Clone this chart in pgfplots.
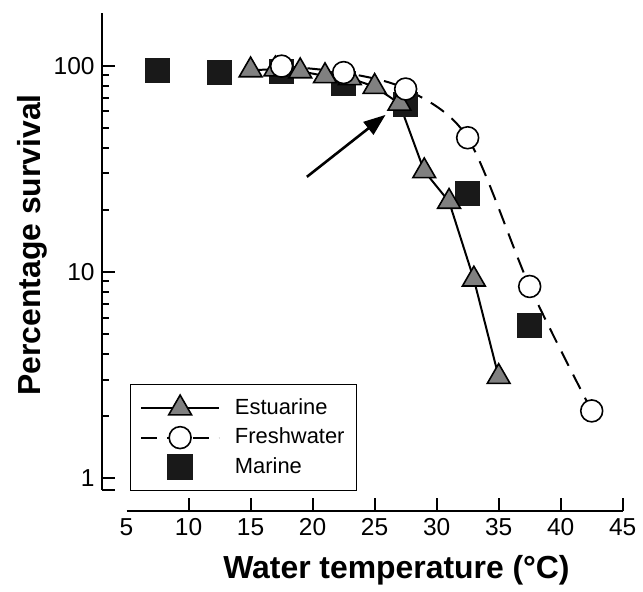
\documentclass[border=0pt]{standalone}
\usepackage{pgfplots}
\pgfplotsset{compat=1.18}
\usepackage{fontspec}
\setmainfont{Liberation Sans}
\usetikzlibrary{arrows.meta}

\begin{document}
\begin{tikzpicture}
\begin{axis}[
  scale only axis,
  width=249pt, height=239.5pt,
  ymode=log,
  xmin=5, xmax=45,
  ymin=0.875, ymax=180,
  separate axis lines,
  axis x line*=bottom,
  axis y line*=left,
  axis x line shift=10.5pt,
  axis y line shift=12.5pt,
  axis line style={-, line width=1pt},
  tick align=inside,
  major tick length=6.5pt,
  minor tick length=3.75pt,
  tick style={black, line width=1pt},
  xtick={10,15,20,25,30,35,40,45},
  xticklabels={10,15,20,25,30,35,40,45},
  extra x ticks={5},
  extra x tick labels={5},
  extra x tick style={major tick length=0pt},
  ytick={1,10,100},
  yticklabels={1,10,100},
  extra y ticks={0.877},
  extra y tick labels={},
  minor ytick={2,3,4,5,6,7,8,9,20,30,40,50,60,70,80,90},
  tick label style={font=\fontsize{12.3}{14}\selectfont},
  xlabel={\bfseries Water temperature (°C)},
  ylabel={\bfseries Percentage survival},
  label style={font=\fontsize{16}{18}\selectfont},
  xlabel style={at={(axis description cs:0.544,-0.184)}, anchor=base},
  ylabel style={at={(axis description cs:-0.189,0.514)}, anchor=center},
  clip=false,
  legend style={at={(axis description cs:0.006,0.223)}, anchor=north west,
    draw=black, line width=0.8pt, font=\fontsize{11}{13}\selectfont,
    row sep=0pt, inner xsep=5pt, inner ysep=4.5pt,
    nodes={inner sep=1pt, text height=9.5pt, text depth=3.25pt}},
  legend cell align=left,
  legend image code/.code={\draw[mark repeat=2,mark phase=2,#1] plot coordinates {(0pt,0pt) (19.5pt,0pt) (39pt,0pt)};
    \path[draw=none, fill=none] (0pt,0pt) -- (46pt,0pt);},
]
% legend entries in the reference's order
\addlegendimage{black, line width=1pt, mark=triangle*, mark size=6.6pt, mark options={fill=gray, draw=black, line width=0.8pt, solid}}
\addlegendentry{Estuarine}
\addlegendimage{black, line width=1pt, dash pattern=on 8pt off 5pt, mark=*, mark size=5.5pt, mark options={fill=white, draw=black, line width=0.8pt, solid}}
\addlegendentry{Freshwater}
\addlegendimage{only marks, mark=square*, mark size=6pt, mark options={fill=black!90, draw=black!90}}
\addlegendentry{Marine}

% Marine
\addplot[forget plot, only marks, mark=square*, mark size=6pt, mark options={fill=black!90, draw=black!90}]
  coordinates {(7.5,95) (12.5,92.5) (17.5,94) (22.5,82.3) (27.5,65) (32.5,24.1) (37.5,5.5)};
% Estuarine
\addplot[forget plot, black, line width=1pt, mark=triangle*, mark size=6.6pt, mark options={fill=gray, draw=black, line width=0.8pt, solid}]
  coordinates {(15,95) (17,96) (19,94) (21,89) (23,87) (25,79) (27,65.5) (29,30.8) (31,21.9) (33,9.2) (35,3.1)};
% Freshwater
\addplot[forget plot, black, line width=1pt, dash pattern=on 8pt off 5pt, smooth, mark=*, mark size=5.5pt, mark options={fill=white, draw=black, line width=0.8pt, solid}]
  coordinates {(17.5,99.4) (22.5,92.5) (27.5,77) (32.5,44.7) (37.5,8.5) (42.5,2.12)};

\draw[-{Triangle[length=11pt,width=8pt]}, line width=1.3pt] (axis cs:19.54,28.9) -- (axis cs:25.88,57.7);
\end{axis}
\path (-63.5pt,-47.5pt) rectangle (258pt,246pt);
\end{tikzpicture}
\end{document}
